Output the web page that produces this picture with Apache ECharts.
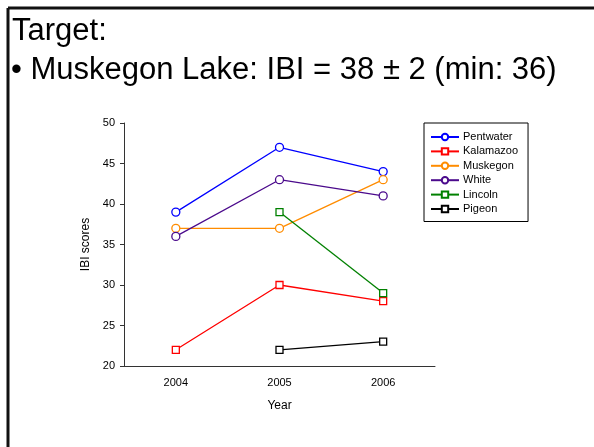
<!DOCTYPE html>
<html>
<head>
<meta charset="utf-8">
<script src="https://cdn.jsdelivr.net/npm/echarts@6/dist/echarts.min.js"></script>
<style>
html,body{margin:0;padding:0;background:#fff;}
#chart{width:594px;height:447px;}
</style>
</head>
<body>
<div id="chart"></div>
<script>
var years = ['2004', '2005', '2006'];
var pentwater = [39, 47, 44];
var kalamazoo = [22, 30, 28];
var muskegon = [37, 37, 43];
var white = [36, 43, 41];
var lincoln = [null, 39, 29];
var pigeon = [null, 22, 23];
var yTicks = [20, 25, 30, 35, 40, 45, 50];

var FONT = 'Liberation Sans, Arial, sans-serif';

function mk(name, data, color, symbol) {
  return {
    name: name,
    type: 'line',
    data: data,
    symbol: symbol,
    symbolSize: symbol === 'circle' ? 8 : 7,
    showAllSymbol: true,
    connectNulls: false,
    lineStyle: { color: color, width: 1.3 },
    itemStyle: { color: '#fff', borderColor: color, borderWidth: 1.3 },
    emphasis: { disabled: true },
    animation: false
  };
}

var chart = echarts.init(document.getElementById('chart'));
chart.setOption({
  animation: false,
  backgroundColor: '#fff',
  title: [
    { text: 'Target:', left: 7, top: 11, textStyle: { fontFamily: FONT, fontSize: 31, fontWeight: 'normal', color: '#000' } },
    { text: '\u2022 Muskegon Lake: IBI = 38 \u00b1 2 (min: 36)', left: 6, top: 50, textStyle: { fontFamily: FONT, fontSize: 31, fontWeight: 'normal', color: '#000' } }
  ],
  graphic: [
    { type: 'line', shape: { x1: 8, y1: 8, x2: 594, y2: 8 }, style: { stroke: '#111', lineWidth: 3 } },
    { type: 'line', shape: { x1: 8, y1: 8, x2: 8, y2: 447 }, style: { stroke: '#111', lineWidth: 3 } }
  ],
  grid: { left: 124, right: 159, top: 123, bottom: 81 },
  legend: {
    orient: 'vertical',
    left: 424,
    top: 123,
    borderColor: '#000',
    borderWidth: 1,
    padding: [8.5, 10, 7, 6],
    itemWidth: 28,
    itemHeight: 8,
    itemGap: 3.4,
    textStyle: { fontFamily: FONT, fontSize: 11, color: '#000', padding: [0, 0, 0, -1] },
    data: ['Pentwater', 'Kalamazoo', 'Muskegon', 'White', 'Lincoln', 'Pigeon']
  },
  xAxis: {
    type: 'category',
    data: years,
    boundaryGap: true,
    name: 'Year',
    nameLocation: 'middle',
    nameGap: 34,
    nameTextStyle: { fontFamily: FONT, fontSize: 12, color: '#000' },
    axisLine: { lineStyle: { color: '#333', width: 1 } },
    axisTick: { alignWithLabel: true, length: 4, lineStyle: { color: '#333' } },
    axisLabel: { fontFamily: FONT, fontSize: 11, color: '#000', margin: 11 },
    splitLine: { show: false }
  },
  yAxis: {
    type: 'value',
    min: yTicks[0],
    max: yTicks[yTicks.length - 1],
    interval: 5,
    name: 'IBI scores',
    nameLocation: 'middle',
    nameGap: 29,
    nameTextStyle: { fontFamily: FONT, fontSize: 12, color: '#000' },
    axisLine: { show: true, lineStyle: { color: '#333', width: 1 } },
    axisTick: { show: true, length: 4, lineStyle: { color: '#333' } },
    axisLabel: { fontFamily: FONT, fontSize: 11, color: '#000', margin: 9 },
    splitLine: { show: false }
  },
  series: [
    mk('Pentwater', pentwater, '#0000ff', 'circle'),
    mk('Kalamazoo', kalamazoo, '#ff0000', 'rect'),
    mk('Muskegon', muskegon, '#ff8c00', 'circle'),
    mk('White', white, '#4b0a8c', 'circle'),
    mk('Lincoln', lincoln, '#008000', 'rect'),
    mk('Pigeon', pigeon, '#000000', 'rect')
  ]
});
</script>
</body>
</html>
